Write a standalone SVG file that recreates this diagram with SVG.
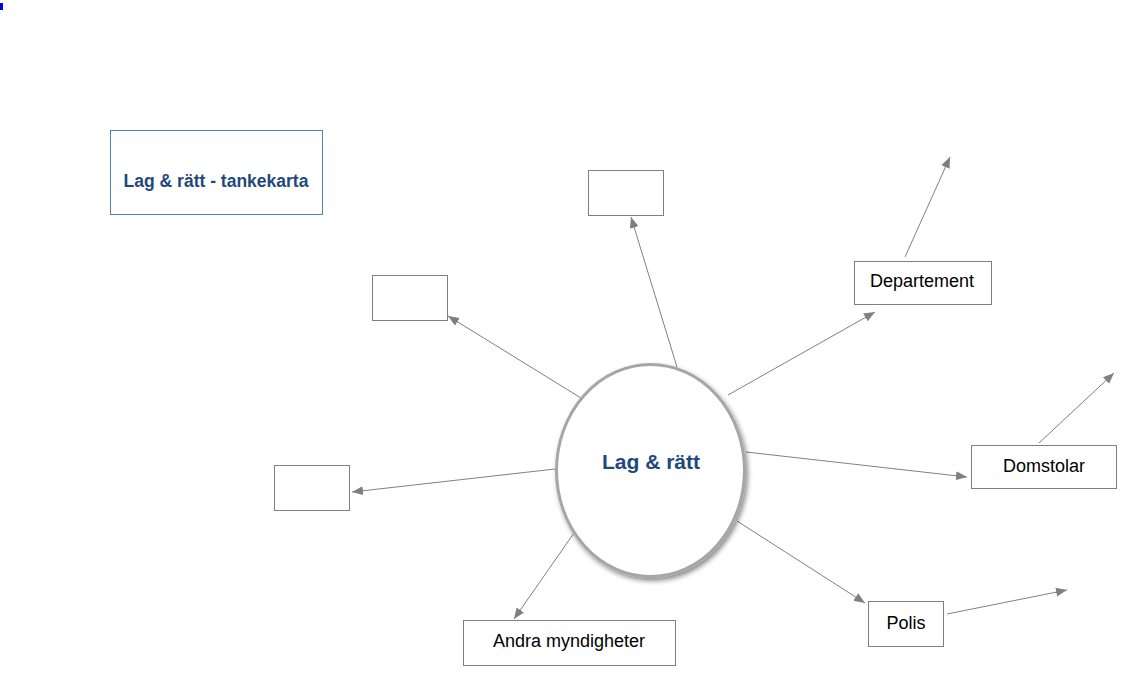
<svg xmlns="http://www.w3.org/2000/svg" width="1130" height="699" viewBox="0 0 1130 699">
<style>
.box{fill:#fff;stroke:#7f7f7f;stroke-width:1}
.lbl{font-family:"Liberation Sans",Arial,sans-serif;font-size:18px;fill:#000;text-anchor:middle}
.ttl{font-family:"Liberation Sans",Arial,sans-serif;font-weight:bold;fill:#1f497d;text-anchor:middle}
.con{stroke:#808080;stroke-width:1;fill:none;marker-end:url(#arr)}
</style>
<defs>
<marker id="arr" markerUnits="userSpaceOnUse" markerWidth="12" markerHeight="10" refX="11" refY="4.5" orient="auto">
<path d="M0,0 L11,4.5 L0,9 z" fill="#7f7f7f"/>
</marker>
<filter id="sh" x="-20%" y="-20%" width="140%" height="140%">
<feDropShadow dx="2" dy="3" stdDeviation="2.5" flood-color="#000" flood-opacity="0.45"/>
</filter>
</defs>
<rect x="0" y="3" width="3" height="7" fill="#0000ff"/>
<g id="connectors">
<line class="con" x1="677" y1="367" x2="631" y2="217"/>
<line class="con" x1="581" y1="398" x2="448" y2="316"/>
<line class="con" x1="555" y1="469" x2="352" y2="492"/>
<line class="con" x1="574" y1="533" x2="514" y2="619"/>
<line class="con" x1="737" y1="521" x2="865" y2="603"/>
<line class="con" x1="947" y1="614" x2="1067" y2="590"/>
<line class="con" x1="746" y1="452" x2="967" y2="477"/>
<line class="con" x1="1039" y1="443" x2="1114" y2="373"/>
<line class="con" x1="728" y1="395" x2="875" y2="312"/>
<line class="con" x1="905" y1="257" x2="950" y2="157"/>
</g>
<g id="title">
<rect x="110.5" y="130.5" width="212" height="84" fill="#fff" stroke="#4f81bd" stroke-width="1"/>
<text class="ttl" x="216" y="186.5" font-size="17.5px">Lag &amp; rätt - tankekarta</text>
</g>
<g id="center">
<ellipse cx="650.5" cy="470.5" rx="94" ry="106" fill="#fff" stroke="#a6a6a6" stroke-width="3" filter="url(#sh)"/>
<text class="ttl" x="651" y="468.5" font-size="21px">Lag &amp; rätt</text>
</g>
<g id="box-top"><rect class="box" x="588.5" y="170.5" width="75" height="45"/></g>
<g id="box-topleft"><rect class="box" x="372.5" y="275.5" width="75" height="45"/></g>
<g id="box-left"><rect class="box" x="274.5" y="465.5" width="75" height="45"/></g>
<g id="andra"><rect class="box" x="463.5" y="620.5" width="212" height="45"/><text class="lbl" x="569" y="647">Andra myndigheter</text></g>
<g id="polis"><rect class="box" x="868.5" y="601.5" width="75" height="45"/><text class="lbl" x="906" y="629">Polis</text></g>
<g id="domstolar"><rect class="box" x="971.5" y="445.5" width="145" height="43"/><text class="lbl" x="1044" y="472">Domstolar</text></g>
<g id="departement"><rect class="box" x="854.5" y="261.5" width="137" height="43"/><text class="lbl" x="922" y="287">Departement</text></g>
</svg>
